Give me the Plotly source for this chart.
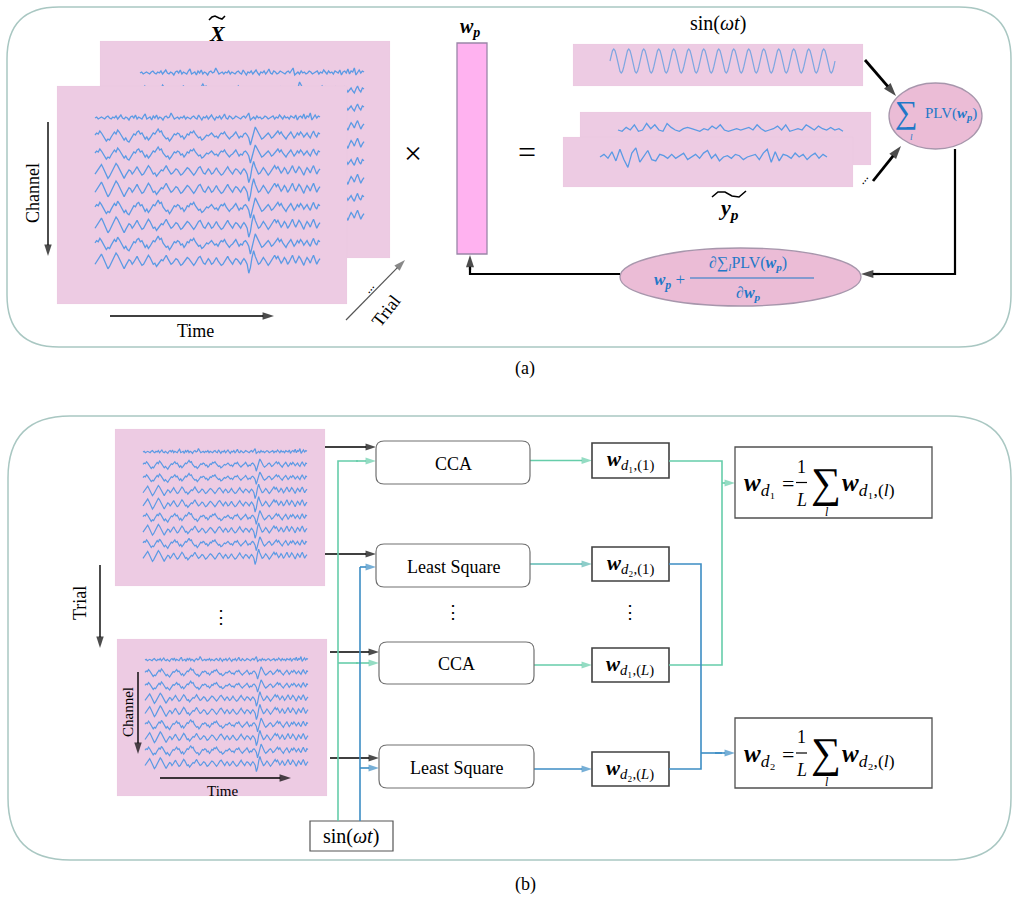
import numpy as np
import plotly.graph_objects as go

W, H = 1014, 897

# ---------------- data (hand-read wiggle shapes) ----------------
eeg_a = [0, 1, -1, 0, 1, 0, -1, 1, 2, 0, -1, 1, 0, 2, -1, 1, 3, 0, -1, 1,
         0, -2, 1, 2, 0, 3, -1, 1, 0, -1, 2, 4, -1, 0, 1, -2, 2, 0, 3, -1,
         1, 0, -2, 1, 2, 0, 1, 5, 2, -1, 0, 1, -1, 1, 0, 2, -1, 1, 0, -1,
         1, 2, 0, -1, 3, 1, -2, 1, 0, 2, -1, 1, 3, 0, -2, 1, 0, 2, -1, 1,
         4, 0, -1, 2, 1, -1, 0, 2, 1, 0, -1, 1, 2, 0, 3, 5, -2, 0, 1, -1,
         2, 0, 1, -1, 0, 2, 1, -1, 0, 1, 2, -1, 1, 0, 3, 1, -1, 2, 0, 1,
         -1, 2, 1, 0, 3, -2, 1, 2, 0, 4, -1, 2, 1, 5, -2, 1, 3, 0, 2, 1]
eeg_b = [1, 3, 2, 5, 3, 0, -2, -5, -3, -4, -1, 1, 4, 2, 6, 4, 1, -1, -4, -2,
         -5, -6, -3, 0, 2, 1, 4, 5, 2, 3, 0, -3, -1, -4, -2, 1, 3, 2, 5, 7,
         4, 5, 1, -1, -3, -2, -5, -3, 0, 2, 1, 3, 2, -1, 0, -3, -1, 2, 1, 4,
         3, 5, 2, 0, -2, -1, -4, -3, -1, 1, 0, 2, 3, 1, -1, 0, -2, 1, 3, 2,
         4, 1, -1, -3, -1, 0, 2, 4, 1, -2, 0, -1, 2, 3, 1, -2, -9, -4, 3, 9,
         6, 2, -1, -3, -2, 0, 2, 3, 1, -2, -1, 1, 3, 5, 2, 4, 1, -1, -3, 0,
         2, 4, 1, -2, 0, 3, 1, 4, 2, -1, 1, 3, 0, -2, 2, 5, 1, -1, 3, 2]
eeg_c = [-2, 0, 3, 5, 7, 4, 1, -3, -6, -4, -1, 2, 5, 8, 6, 3, -1, -4, -6, -3,
         0, 2, 1, -2, 0, 3, 5, 2, -1, -3, -2, 1, 3, 6, 4, 1, -2, -1, -4, -2,
         0, 2, 1, 4, 6, 3, 0, -2, -1, 1, 3, 2, -1, -3, -2, 0, 2, 4, 3, 1,
         -1, -3, -1, 2, 4, 5, 2, -1, -2, 1, 3, 1, -2, -1, 2, 4, 1, -1, -3, -2,
         0, 3, 5, 2, 0, -2, 1, 3, 2, 0, -2, 1, 3, 1, -2, -10, -5, 4, 10, 5,
         1, -2, -1, 2, 4, 2, 0, -3, -1, 1, 4, 6, 3, 5, 2, -1, 1, 4, 2, -2,
         0, 3, 6, 2, -1, 2, 5, 3, 0, -3, 1, 4, 2, -1, 3, 6, 2, -2, 1, 3]
channel_patterns = [eeg_a, eeg_b, eeg_b, eeg_c, eeg_c, eeg_b, eeg_c, eeg_b, eeg_c]
channel_gain = [0.8, 0.8, 0.8, 0.85, 0.9, 0.9, 0.9, 0.9, 0.9]

yp_back = [0, -1, 2, 0, 4, -1, 0, 5, 1, 4, 0, -1, 5, 2, 0, -1, 1, 2, 1, 0, -1, 1, 0, 3, 1, 4, 0, -1, 0, 1,
           0, 1, 2, 0, 4, 1, -1, 0, 1, 3, 0, 4, -1, 0, 1, 0, 4, 2, 0, 3, 1, 0, 2, 0, 1, -1]
yp_front = [0, 2, -1, 4, -3, 6, -2, -8, 3, 7, -4, 1, 5, -2, -3, 2, 1, -1, 2, -1, 1, 3, -2, 0, 2, -1, 3, 5, -1, 2,
            -3, 0, 1, -1, 2, 1, -2, 0, 1, 2, -2, 3, 6, -4, 4, -3, 2, 1, -1, 3, 0, 2, -2, 1, 3, -1, 2, 0]
sine_cycle = [0, 0.5, 0.87, 1, 0.87, 0.5, 0, -0.5, -0.87, -1, -0.87, -0.5]
sine_cycles = 15

# ---------------- styling ----------------
PINK = "#EDCBE3"
COLUMN_PINK = "#FFB2F0"
ELL_PINK = "#EBBCD6"
SIG = "#5B9AE4"
GREEN = "#66CDAA"
TEAL = "#5DB8B2"
BLUE = "#3C8DC4"
TXTBLUE = "#1F78C8"
SERIF = "Liberation Serif"
BORDER = "#A9C7C2"

fig = go.Figure()
shapes = []
ann = []


def rect_trace(x0, y0, x1, y1, fill):
    fig.add_trace(go.Scatter(x=[x0, x1, x1, x0, x0], y=[y0, y0, y1, y1, y0], fill="toself",
                             fillcolor=fill, mode="lines", line=dict(color=fill, width=0.1),
                             hoverinfo="skip", showlegend=False))


def signal(pattern, x0, x1, yc, scale, color=SIG, width=1.2):
    p = np.asarray(pattern, dtype=float)
    xs = np.linspace(x0, x1, len(p))
    fig.add_trace(go.Scatter(x=xs, y=yc - scale * p, mode="lines",
                             line=dict(color=color, width=width),
                             hoverinfo="skip", showlegend=False))


def eeg_block(x0, x1, y_first, dy, scale, width=1.2):
    for k, (pat, g) in enumerate(zip(channel_patterns, channel_gain)):
        signal(pat, x0, x1, y_first + k * dy, scale * g, width=width)


def text(x, y, t, size=17, color="black", angle=0, xanchor="center", family=SERIF):
    ann.append(dict(x=x, y=y, text=t, showarrow=False, textangle=angle, xanchor=xanchor,
                    yanchor="middle", font=dict(family=family, size=size, color=color)))


def arrow(x0, y0, x1, y1, color="black", width=1.5, size=9):
    fig.add_trace(go.Scatter(x=[x0, x1], y=[y0, y1], mode="lines+markers",
                             line=dict(color=color, width=width),
                             marker=dict(symbol="arrow", size=[0, size], angleref="previous",
                                         color=color, line=dict(width=0)),
                             hoverinfo="skip", showlegend=False))


def line(pts, color="black", width=1.5):
    d = "M " + " L ".join(f"{x},{y}" for x, y in pts)
    shapes.append(dict(type="path", path=d, line=dict(color=color, width=width), layer="above"))


def rrect_path(x0, y0, x1, y1, r):
    return (f"M {x0 + r},{y0} L {x1 - r},{y0} Q {x1},{y0} {x1},{y0 + r} L {x1},{y1 - r} "
            f"Q {x1},{y1} {x1 - r},{y1} L {x0 + r},{y1} Q {x0},{y1} {x0},{y1 - r} "
            f"L {x0},{y0 + r} Q {x0},{y0} {x0 + r},{y0} Z")


def box(x0, y0, x1, y1, r=0, color="#606060", width=1.3, fill="rgba(255,255,255,0)"):
    if r:
        shapes.append(dict(type="path", path=rrect_path(x0, y0, x1, y1, r),
                           line=dict(color=color, width=width), fillcolor=fill, layer="above"))
    else:
        shapes.append(dict(type="rect", x0=x0, y0=y0, x1=x1, y1=y1,
                           line=dict(color=color, width=width), fillcolor=fill, layer="above"))


def w_label(sub):
    return f"<b><i>w</i></b><sub>{sub}</sub>"


WP = "<b><i>w</i></b><sub><b><i>p</i></b></sub>"

# ---------------- panel frames ----------------
shapes.append(dict(type="path", path=rrect_path(7, 7, 1011, 347, 52),
                   line=dict(color=BORDER, width=1.5), layer="below"))
shapes.append(dict(type="path", path=rrect_path(8, 416, 1011, 860, 62),
                   line=dict(color=BORDER, width=1.5), layer="below"))
text(525, 368, "(a)", size=18)
text(525, 884, "(b)", size=18)

# ================= panel (a) =================
rect_trace(100, 41, 390, 258, PINK)
eeg_block(140, 364, 73, 18, 1.25, width=1.3)
rect_trace(57, 86, 347, 304, PINK)
eeg_block(95, 320, 118, 18, 1.25, width=1.3)

text(217, 33, "<b><i>X</i></b>", size=22)
line([(209, 20), (212, 17), (215, 16), (219, 18), (222, 19), (225, 16)], width=1.6)

text(33, 193, "Channel", size=18, angle=-90)
arrow(48, 122, 48, 256, width=1.4, size=12)
text(195, 331, "Time", size=18)
arrow(110, 316, 274, 316, width=1.4, size=12)
text(386, 311, "Trial", size=18, angle=-52)
text(368, 287, "...", size=13, angle=-52)
arrow(346, 320, 405, 260, color="#555555", width=1.2, size=12)
text(413, 153, "×", size=32)

# w_p column
text(470, 27, WP, size=20)
shapes.append(dict(type="rect", x0=457, y0=43, x1=487, y1=254, fillcolor=COLUMN_PINK,
                   line=dict(color="#9A86A8", width=1.3), layer="above"))
text(527, 152, "=", size=32)

# sin reference
text(718, 23, "sin(<i>ωt</i>)", size=20)
rect_trace(573, 44, 863, 86, PINK)
sine = np.tile(np.asarray(sine_cycle), sine_cycles)
signal(np.append(sine, 0), 610, 835, 61, 12, color="#7EA6E0", width=1.2)

# y_p
rect_trace(580, 112, 871, 165, PINK)
rect_trace(563, 137, 853, 187, PINK)
signal(yp_back, 618, 843, 130, 1.3, width=1.3)
signal(yp_front, 600, 827, 157, 1.3, width=1.3)
text(728, 209, "<b><i>y</i></b><sub><b><i>p</i></b></sub>", size=22)
line([(712, 197), (718, 192), (725, 192), (732, 196), (739, 197), (746, 191)], width=1.6)
text(862, 178, "...", size=13, angle=-52)

# PLV ellipse
shapes.append(dict(type="circle", x0=889, y0=83, x1=982, y1=149, fillcolor=ELL_PINK,
                   line=dict(color="#A796AC", width=1.3), layer="above"))
text(906, 112, "∑", size=32, color=TXTBLUE)
text(911, 137, "<i>l</i>", size=9, color=TXTBLUE)
text(951, 114, "PLV(" + WP + ")", size=15, color=TXTBLUE)
arrow(865, 60, 896, 96, width=2.8, size=14)
arrow(873, 181, 901, 146, width=2.8, size=14)

# gradient-update ellipse
shapes.append(dict(type="circle", x0=620, y0=248, x1=861, y1=306, fillcolor=ELL_PINK,
                   line=dict(color="#A796AC", width=1.3), layer="below"))
text(669, 281, WP + " +", size=17, color=TXTBLUE)
text(748, 263, "∂∑<sub><i>l</i></sub>PLV(" + WP + ")", size=16, color=TXTBLUE)
line([(690, 278), (814, 278)], color=TXTBLUE, width=1.2)
text(748, 293, "∂" + WP, size=16, color=TXTBLUE)

line([(955, 149), (955, 274), (875, 274)], width=2.2)
arrow(880, 274, 861, 274, width=2.2, size=13)
line([(620, 274), (470, 274), (470, 268)], width=2.2)
arrow(470, 270, 470, 255, width=2.2, size=13)

# ================= panel (b) =================
rect_trace(115, 429, 325, 586, PINK)
eeg_block(143, 307, 452, 13.1, 0.85)
rect_trace(117, 639, 327, 796, PINK)
eeg_block(145, 308, 660, 13.0, 0.85)

text(80, 603, "Trial", size=18, angle=-90)
arrow(100, 565, 100, 648, width=1.4, size=12)
text(221, 617, "⋮", size=18)
text(128, 712, "Channel", size=15, angle=-90)
arrow(138, 672, 138, 754, width=1.4, size=12)
text(222, 791, "Time", size=15)
arrow(160, 778, 291, 778, width=1.4, size=12)

# sin box
box(310, 821, 393, 851, color="#555555", width=1.2, fill="white")
text(351, 836, "sin(<i>ωt</i>)", size=20)

# processing boxes
proc = [("CCA", 376, 441, 530, 484), ("Least Square", 376, 544, 530, 587),
        ("CCA", 379, 642, 534, 684), ("Least Square", 379, 745, 534, 788)]
for label, x0, y0, x1, y1 in proc:
    box(x0, y0, x1, y1, r=8, color="#707070", width=1.2)
    text((x0 + x1) / 2, (y0 + y1) / 2 + 1, label, size=18)
text(453, 612, "⋮", size=18)
text(630, 612, "⋮", size=18)

# EEG -> boxes (black)
arrow(325, 447, 376, 447, width=1.3, size=11)
arrow(325, 554, 376, 554, width=1.3, size=11)
arrow(330, 652, 379, 652, width=1.3, size=11)
arrow(330, 758, 379, 758, width=1.3, size=11)

# sin -> CCA (green), sin -> LS (blue)
line([(338, 821), (338, 461), (358, 461)], color=GREEN, width=1.6)
arrow(356, 461, 376, 461, color=GREEN, width=1.6, size=11)
line([(338, 663), (358, 663)], color=GREEN, width=1.6)
arrow(356, 663, 379, 663, color=GREEN, width=1.6, size=11)
line([(360, 821), (360, 567)], color=BLUE, width=1.6)
arrow(360, 567, 376, 567, color=BLUE, width=1.6, size=11)
arrow(360, 768, 379, 768, color=BLUE, width=1.6, size=11)

# weight boxes
wboxes = [("<i>d</i>₁,(1)", 443, 478, GREEN), ("<i>d</i>₂,(1)", 547, 581, TEAL),
          ("<i>d</i>₁,(<i>L</i>)", 648, 682, GREEN), ("<i>d</i>₂,(<i>L</i>)", 752, 786, BLUE)]
src_x = [530, 530, 534, 534]
for (sub, y0, y1, col), sx in zip(wboxes, src_x):
    box(592, y0, 669, y1, color="#404040", width=1.6)
    text(630, (y0 + y1) / 2, w_label(sub), size=21)
    arrow(sx, (y0 + y1) / 2, 592, (y0 + y1) / 2, color=col, width=1.6, size=11)

# aggregation lines
line([(669, 461), (722, 461), (722, 665), (669, 665)], color=GREEN, width=1.6)
arrow(722, 483, 735, 483, color=GREEN, width=1.6, size=11)
line([(669, 564), (701, 564), (701, 769), (669, 769)], color=BLUE, width=1.6)
line([(701, 753), (722, 753)], color=BLUE, width=1.6)
arrow(715, 753, 735, 753, color=BLUE, width=1.6, size=11)

# averaged weight formulas
for k, (y0, y1) in zip(["₁", "₂"], [(447, 518), (718, 788)]):
    box(735, y0, 932, y1, color="#505050", width=1.3)
    yc = (y0 + y1) / 2
    text(742, yc + 2, w_label(f"<i>d</i>{k}"), size=25, xanchor="left")
    text(788, yc + 1, "=", size=22)
    text(801, yc - 16, "1", size=18)
    line([(796, yc), (807, yc)], width=1.2)
    text(801, yc + 17, "<i>L</i>", size=18)
    text(826, yc, "∑", size=42)
    text(827, yc + 29, "<i>l</i>", size=12)
    text(840, yc + 2, w_label(f"<i>d</i>{k},(<i>l</i>)"), size=25, xanchor="left")

fig.update_layout(
    width=W, height=H, margin=dict(l=0, r=0, t=0, b=0),
    paper_bgcolor="white", plot_bgcolor="white", showlegend=False,
    xaxis=dict(range=[0, W], visible=False, fixedrange=True),
    yaxis=dict(range=[H, 0], visible=False, fixedrange=True),
    shapes=shapes, annotations=ann,
)
fig.write_html("out.html", config={"displayModeBar": False},
               post_script="document.body.style.margin='0';document.body.style.padding='0';"
                           "document.documentElement.style.overflow='hidden';")
